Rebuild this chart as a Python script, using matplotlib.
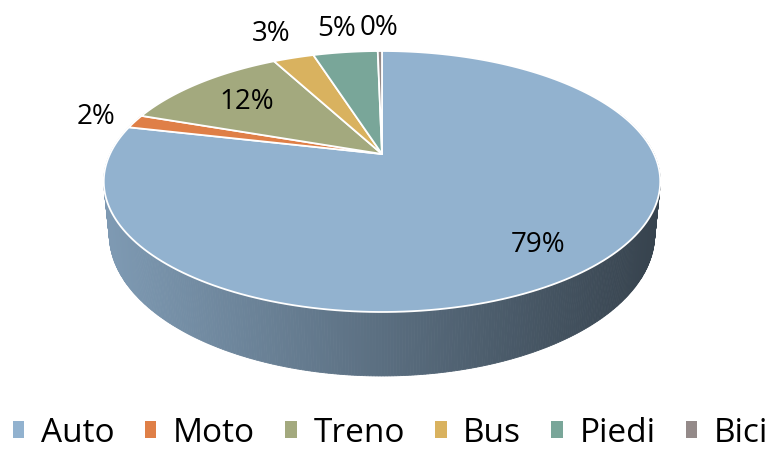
import matplotlib.pyplot as plt
from matplotlib.patches import Polygon, Patch
import numpy as np

#Data
categories = ['Auto', 'Moto', 'Treno', 'Bus', 'Piedi', 'Bici']
shares = [78.6, 1.7, 11.9, 2.9, 4.6, 0.3]

#Style
colors = ['#92B2CF', '#DF7F47', '#A3A97E', '#D9B25F', '#79A699', '#948A89']
label_radius = [0.8, 1.17, 0.72, 1.32, 1.3, 1.3]
plt.rcParams['font.family'] = ['Open Sans', 'DejaVu Sans']

#Perspective of the 3D disc (pixel space)
cx, cy = 382, 155
A, B, D = 272, 124.7, 50.5
persp = 0.2107

def project(theta, r, depth=0.0):
    t = np.deg2rad(theta)
    u = r * np.sin(t)
    v = -r * np.cos(t)
    den = 1 - persp * v
    x = cx + A * (1 - 0.02 * depth) * u / den
    y = cy + B * v / den + D * depth / den
    return x, y

fig = plt.figure(figsize=(7.73, 4.52), dpi=100)
ax = fig.add_axes([0, 0, 1, 1])
ax.set_xlim(0, 773)
ax.set_ylim(452, 0)
ax.axis('off')

values = np.array(shares, dtype=float)
bounds = np.concatenate(([0], np.cumsum(values) / values.sum() * 360))

#Side wall (front part only), shaded left to right
xmin, xmax = cx - A, cx + A
for i in range(len(values)):
    t0, t1 = bounds[i], bounds[i + 1]
    ts = np.linspace(t0, t1, max(int((t1 - t0) * 2), 2))
    base = np.array(plt.matplotlib.colors.to_rgb(colors[i]))
    for a, b in zip(ts[:-1], ts[1:]):
        if -np.cos(np.deg2rad((a + b) / 2)) < -0.35:
            continue
        xa, ya = project(a, 1)
        xb, yb = project(b, 1)
        xa2, ya2 = project(a, 1, 1)
        xb2, yb2 = project(b, 1, 1)
        f = 0.86 - 0.48 * np.clip(((xa + xb) / 2 - xmin) / (xmax - xmin), 0, 1)
        ax.add_patch(Polygon([(xa, ya), (xb, yb), (xb2, yb2), (xa2, ya2)],
                             closed=True, facecolor=base * f, edgecolor=base * f,
                             linewidth=0.6, zorder=1))

#Top face
for i in range(len(values)):
    ts = np.linspace(bounds[i], bounds[i + 1], 200)
    pts = [project(0, 0)] + [project(t, 1) for t in ts]
    ax.add_patch(Polygon(pts, closed=True, facecolor=colors[i], edgecolor='white',
                         linewidth=1.3, joinstyle='round', zorder=2))

#Percentage labels
for i in range(len(values)):
    mid = (bounds[i] + bounds[i + 1]) / 2
    lx, ly = project(mid, label_radius[i])
    pct = '{:.0f}%'.format(values[i] / values.sum() * 100)
    ax.text(lx, ly, pct, ha='center', va='center', fontsize=20, color='black', zorder=3)

#Legend
handles = [Patch(facecolor=c, edgecolor='none') for c in colors]
fig.legend(handles, categories, loc='center', bbox_to_anchor=(0.505, 0.04),
           ncol=6, frameon=False, fontsize=24, handlelength=0.35, handleheight=0.4,
           handletextpad=0.5, columnspacing=0.9, borderpad=0, borderaxespad=0)

fig.savefig('out.png', dpi=100)
